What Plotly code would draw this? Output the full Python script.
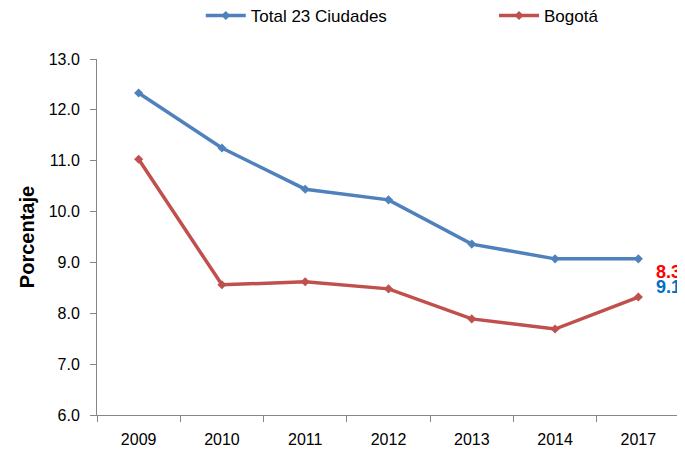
import plotly.graph_objects as go

years = ["2009", "2010", "2011", "2012", "2013", "2014", "2017"]
total_23 = [12.33, 11.25, 10.44, 10.23, 9.36, 9.07, 9.07]
bogota = [11.03, 8.56, 8.62, 8.48, 7.89, 7.69, 8.32]

blue = "#4F81BD"
red = "#C0504D"
font = "Liberation Sans"

W, H = 677, 442  # page body adds an 8px offset

fig = go.Figure()
fig.add_trace(go.Scatter(x=years, y=total_23, name="Total 23 Ciudades", mode="lines+markers",
                         line=dict(color=blue, width=3.5),
                         marker=dict(symbol="diamond", size=7, color=blue), legend="legend"))
fig.add_trace(go.Scatter(x=years, y=bogota, name="Bogotá", mode="lines+markers",
                         line=dict(color=red, width=3.5),
                         marker=dict(symbol="diamond", size=7, color=red), legend="legend2"))

last = len(years) - 1
fig.add_annotation(x=last, y=8.81, xref="x", yref="y", text=f"<b>{bogota[-1]:.1f}</b>",
                   showarrow=False, xshift=30, font=dict(family=font, size=18, color="#FF0000"))
fig.add_annotation(x=last, y=8.52, xref="x", yref="y", text=f"<b>{total_23[-1]:.1f}</b>",
                   showarrow=False, xshift=30, font=dict(family=font, size=18, color="#0070C0"))

leg_common = dict(orientation="h", yref="container", y=1 - 8 / H, yanchor="middle",
                  xanchor="left", font=dict(size=17), itemwidth=40,
                  bgcolor="rgba(0,0,0,0)")
fig.update_layout(
    width=W, height=H,
    margin=dict(l=89, r=5, t=51, b=35, autoexpand=False),
    paper_bgcolor="white", plot_bgcolor="white",
    font=dict(family=font, size=16, color="#000000"),
    legend=dict(x=0.178, **leg_common),
    legend2=dict(x=0.681, **leg_common),
    showlegend=True,
)
fig.update_xaxes(type="category", range=[-0.5, 6.5], showline=True, linecolor="#868686",
                 linewidth=1, ticks="outside", tickson="boundaries", ticklen=6,
                 tickcolor="#868686", showgrid=False, zeroline=False, ticklabelstandoff=10)
fig.update_yaxes(range=[6, 13], dtick=1, tickformat=".1f", showline=True, linecolor="#868686",
                 linewidth=1, ticks="outside", ticklen=6, tickcolor="#868686",
                 showgrid=False, zeroline=False, ticklabelstandoff=7,
                 title=dict(text="<b>Porcentaje</b>", font=dict(size=20), standoff=8))

fig.write_html("out.html")
